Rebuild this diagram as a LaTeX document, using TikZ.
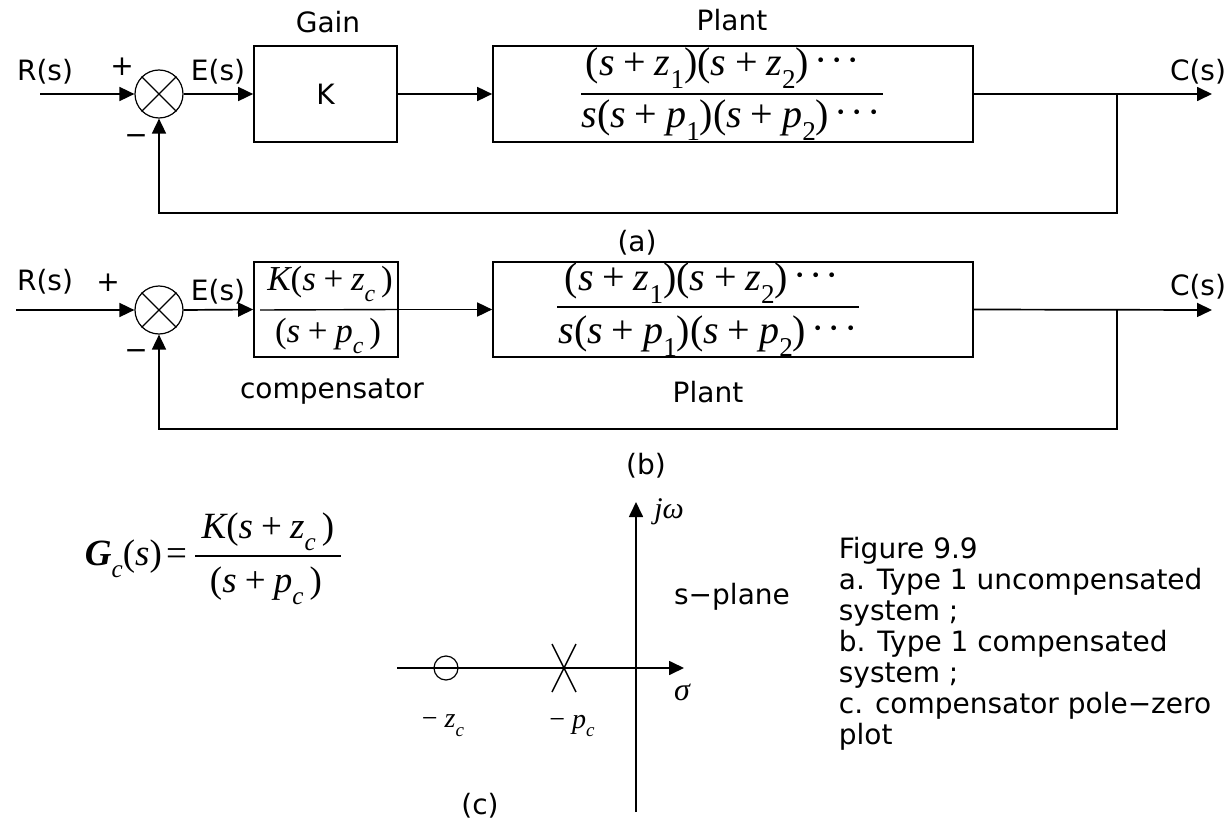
\documentclass[tikz,border=0pt]{standalone}
\usepackage{fontspec}
\usepackage{graphicx}
\setmainfont{DejaVu Sans}
\newfontfamily\tmf{Liberation Serif}
\newcommand\mi[1]{{\tmf\itshape #1}}
\newcommand\mr[1]{{\tmf #1}}
\newcommand\subs[1]{\raisebox{-0.32em}{\scalebox{0.68}{#1}}}
\newcommand\pls{\hspace{0.22em}{\tmf +}\hspace{0.22em}}
\newcommand\cdts{\hspace{0.14em}{\tmf\raisebox{0.05em}{·\hspace{0.07em}·\hspace{0.07em}·}}}
\usetikzlibrary{arrows.meta,calc}
\begin{document}
\begin{tikzpicture}[x=1pt,y=-1pt,line width=1.7pt,
  arr/.style={-{Triangle[length=15pt,width=14pt]}},
  lbl/.style={font=\fontsize{28}{31}\selectfont,inner sep=0pt},
  mth/.style={font=\fontsize{40}{42}\selectfont,inner sep=0pt},
  cmth/.style={font=\fontsize{35}{38}\selectfont,inner sep=0pt},
  gmth/.style={font=\fontsize{37}{40}\selectfont,inner sep=0pt},
  pzl/.style={font=\fontsize{28}{30}\selectfont,inner sep=0pt},
  blk/.style={draw,inner sep=0pt},
  sumj/.style={draw,circle,minimum size=48pt,inner sep=0pt,line width=1.2pt}]
\useasboundingbox (0,0) rectangle (1228,829);

% ---------------- (a)
\node[lbl] (R1) at (45,72) {R(s)};
\coordinate (in1) at (40,94);
\node[sumj] (S1) at (159,94) {};
\draw[line width=1.2pt] (S1.45) -- (S1.225) (S1.135) -- (S1.315);
\node[lbl] (p1) at (122,67) {+};
\node[lbl] (m1) at (136,140) {−};
\node[lbl] (E1) at (218,72) {E(s)};
\node[blk,minimum width=143pt,minimum height=96pt] (K1) at (325.5,94) {};
\node[lbl] (Kt) at (K1) {K};
\node[lbl] (G1) at (328,22) {Gain};
\node[blk,minimum width=480pt,minimum height=96pt] (P1) at (733,94) {};
\node[lbl] (PL1) at (732,20) {Plant};
\node[mth] (n1) at (723,68) {\mr{(}\mi{s}\pls\mi{z}\subs{\mr{1}}\mr{)(}\mi{s}\pls\mi{z}\subs{\mr{2}}\mr{)}\cdts};
\node[mth] (d1) at (731,120) {\mi{s}\mr{(}\mi{s}\pls\mi{p}\subs{\mr{1}}\mr{)(}\mi{s}\pls\mi{p}\subs{\mr{2}}\mr{)}\cdts};
\coordinate (f1a) at (581,94);
\coordinate (f1b) at (883,94);
\draw[line width=1.4pt] (f1a) -- (f1b);
\coordinate (C1) at (1212,94);
\coordinate (t1) at (1117,94);
\node[lbl] (Cl1) at (1198,72) {C(s)};
\draw[arr] (in1) -- (S1.west);
\draw[arr] (S1.east) -- (K1.west);
\draw[arr] (K1.east) -- (P1.west);
\draw[arr] (P1.east) -- (C1);
\draw[arr] (t1) -- (1117,213) -| (S1.south);
\node[lbl] (la) at (637,243) {(a)};

% ---------------- (b)
\node[lbl] (R2) at (45,282) {R(s)};
\coordinate (in2) at (16,310);
\node[sumj] (S2) at (159,310) {};
\draw[line width=1.2pt] (S2.45) -- (S2.225) (S2.135) -- (S2.315);
\node[lbl] (p2) at (108,283) {+};
\node[lbl] (m2) at (136,355) {−};
\node[lbl] (E2) at (218,292) {E(s)};
\node[blk,minimum width=144pt,minimum height=95pt] (K2) at (326,309.5) {};
\node[cmth] (n2) at (330,284) {\mi{K}\mr{(}\mi{s}\pls\mi{z}\subs{\mi{c}}\,\mr{)}};
\node[cmth] (d2) at (328,336) {\mr{(}\mi{s}\pls\mi{p}\subs{\mi{c}}\,\mr{)}};
\coordinate (f2a) at (260,310);
\draw[line width=1.4pt] (f2a) -- (K2.east);
\node[lbl] (comp) at (332,392) {compensator};
\node[blk,minimum width=480pt,minimum height=95pt] (P2) at (733,309.5) {};
\node[mth] (n2p) at (702,283) {\mr{(}\mi{s}\pls\mi{z}\subs{\mr{1}}\mr{)(}\mi{s}\pls\mi{z}\subs{\mr{2}}\mr{)}\cdts};
\node[mth] (d2p) at (708,336) {\mi{s}\mr{(}\mi{s}\pls\mi{p}\subs{\mr{1}}\mr{)(}\mi{s}\pls\mi{p}\subs{\mr{2}}\mr{)}\cdts};
\coordinate (f3a) at (557,307);
\coordinate (f3b) at (859,307);
\draw[line width=1.4pt] (f3a) -- (f3b);
\node[lbl] (PL2) at (708,392) {Plant};
\coordinate (C2) at (1212,310);
\coordinate (t2) at (1117,310);
\node[lbl] (Cl2) at (1198,287) {C(s)};
\draw[arr] (in2) -- (S2.west);
\draw[arr] (S2.east) -- (K2.west);
\draw[arr] (K2.east) -- (P2.west);
\draw[arr] (P2.east) -- (C2);
\draw[arr] (t2) -- (1117,429) -| (S2.south);
\node[lbl] (lb) at (646,466) {(b)};

% ---------------- (c)
\node[gmth,anchor=east] (Gc) at (188,559) {{\tmf\bfseries\itshape G}\subs{\mi{c}}\mr{(}\mi{s}\mr{)}\hspace{0.12em}\mr{=}};
\node[gmth] (Gn) at (268,532) {\mi{K}\mr{(}\mi{s}\pls\mi{z}\subs{\mi{c}}\,\mr{)}};
\node[gmth] (Gd) at (266,586) {\mr{(}\mi{s}\pls\mi{p}\subs{\mi{c}}\,\mr{)}};
\coordinate (gfa) at (195,556);
\coordinate (gfb) at (341,556);
\draw[line width=1.4pt] (gfa) -- (gfb);
\coordinate (xa) at (397,668);
\coordinate (xb) at (684,668);
\coordinate (ya) at (636,812);
\coordinate (yb) at (636,502);
\draw[arr] (xa) -- (xb);
\draw[arr] (ya) -- (yb);
\node[font=\fontsize{30}{32}\selectfont,inner sep=0pt] (jw) at (669,512) {\mi{jω}};
\node[font=\fontsize{32}{32}\selectfont,inner sep=0pt] (sig) at (682,692) {\mi{σ}};
\node[lbl] (sp) at (732,597) {s−plane};
\node[draw,circle,minimum size=24pt,inner sep=0pt,line width=1.2pt] (zc) at (446,668) {};
\coordinate (pc) at (564,668);
\draw[line width=1.4pt] ($(pc)+(-12,-24)$) -- ($(pc)+(12,24)$);
\draw[line width=1.4pt] ($(pc)+(12,-24)$) -- ($(pc)+(-12,24)$);
\node[pzl] (zl) at (443,726) {\mr{−}\hspace{0.25em}\mi{z}\subs{\mi{c}}};
\node[pzl] (pl) at (572,726) {\mr{−}\hspace{0.25em}\mi{p}\subs{\mi{c}}};
\node[lbl] (lc) at (480,806) {(c)};

\node[lbl,anchor=north west,align=left] (cap) at (838,536) {Figure 9.9\\a. Type 1 uncompensated\\system ;\\b. Type 1 compensated\\system ;\\c. compensator pole−zero\\plot};
\end{tikzpicture}
\end{document}
